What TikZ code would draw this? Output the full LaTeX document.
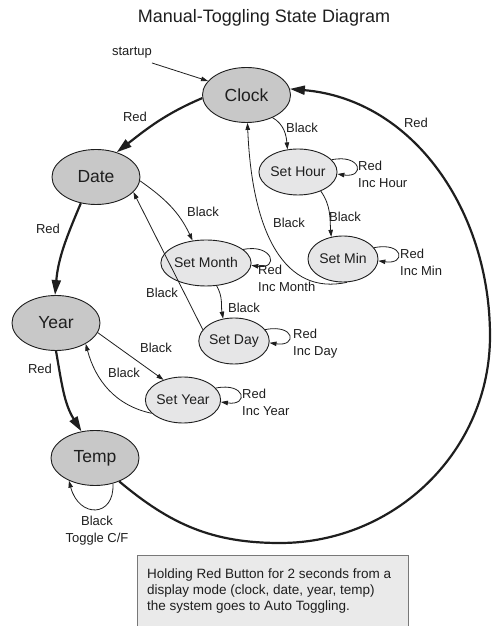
\documentclass[tikz,border=0pt]{standalone}
\usepackage{fontspec}
\setmainfont{Liberation Sans}
\usetikzlibrary{shapes.geometric,arrows.meta}
\definecolor{mainfill}{RGB}{200,200,200}
\definecolor{subfill}{RGB}{230,230,231}
\definecolor{boxfill}{RGB}{234,234,234}
\definecolor{boxline}{RGB}{120,120,120}
\definecolor{ink}{RGB}{30,30,30}
\newcommand{\selfloop}[1]{\draw[blackarrow] (#1.20) .. controls +(30,6) and +(28,-4) .. (#1.-3);}
\begin{document}
\begin{tikzpicture}[x=1pt,y=1pt,
  mainstate/.style={ellipse,draw=ink,fill=mainfill,line width=0.9pt,minimum width=88pt,minimum height=55pt,inner sep=0pt,font=\fontsize{17.5}{20}\selectfont,text=ink},
  substate/.style={ellipse,draw=ink,fill=subfill,line width=0.9pt,minimum width=70pt,minimum height=46pt,inner sep=0pt,font=\fontsize{14}{16}\selectfont,text=ink},
  lbl/.style={font=\fontsize{13}{17}\selectfont,text=ink,inner sep=0pt},
  redarrow/.style={draw=ink,line width=2.2pt,-{Triangle[length=15pt,width=9pt]}},
  blackarrow/.style={draw=ink,line width=0.8pt,-{Triangle[length=7pt,width=4.5pt]}},
  notebox/.style={draw=boxline,fill=boxfill,line width=0.9pt,inner sep=0pt,anchor=north west,minimum width=271pt,minimum height=90pt},
]
\useasboundingbox (0,0) rectangle (494,626);

% title
\node[font=\fontsize{18}{21}\selectfont,text=ink] (title) at (264,608) {Manual-Toggling State Diagram};

% states
\node[mainstate] (clock) at (246.5,531) {Clock};
\node[mainstate] (date) at (96,449) {Date};
\node[mainstate] (year) at (56,303) {Year};
\node[mainstate] (temp) at (95,168) {Temp};
\node[substate] (sh) at (298,454) {Set Hour};
\node[substate] (sm) at (343,367) {Set Min};
\node[substate] (smo) at (206,363) {Set Month};
\node[substate] (sd) at (234,285) {Set Day};
\node[substate] (sy) at (183,226) {Set Year};

% startup
\node[lbl] (startup) at (132,573) {startup};
\coordinate (st) at (152,563);
\draw[blackarrow] (st) -- (clock.160);

% red main cycle
\draw[redarrow] (clock.184) to[out=203,in=38] (date.50);
\node[lbl] (r1) at (135,509) {Red};
\draw[redarrow] (date.240) to[out=247,in=85] (year.92);
\node[lbl] (r2) at (48,397) {Red};
\draw[redarrow] (year.270) to[out=-80,in=122] (temp.117);
\node[lbl] (r3) at (40,257) {Red};
\coordinate (bb) at (280,83);
\coordinate (rr) at (490,290);
\draw[redarrow] (temp.-44) to[out=-40,in=180] (bb) to[out=0,in=-90] (rr) to[out=90,in=-5] (clock.8);
\node[lbl] (r4) at (416,503) {Red};

% clock substates
\draw[blackarrow] (clock.-41) to[out=-30,in=95] (sh.115);
\node[lbl] (b1) at (302,498) {Black};
\draw[blackarrow] (sh.-40) to[out=-55,in=95] (sm.118);
\node[lbl] (b2) at (345,409) {Black};
\draw[blackarrow] (sm.-80) .. controls (285,330) and (252,392) .. (clock.272);
\node[lbl] (b3) at (289,403) {Black};
\selfloop{sh}
\node[lbl,anchor=west,align=left] (l1) at (358,451.5) {Red\\Inc Hour};
\selfloop{sm}
\node[lbl,anchor=west,align=left] (l2) at (400,363.5) {Red\\Inc Min};

% date substates
\draw[blackarrow] (date.-5) to[out=-35,in=115] (smo.121);
\node[lbl] (b4) at (203,414) {Black};
\draw[blackarrow] (smo.-65) to[out=-60,in=100] (sd.116);
\node[lbl] (b5) at (244,318) {Black};
\draw[blackarrow] (sd.160) -- (date.-22);
\node[lbl] (b6) at (162,333) {Black};
\selfloop{smo}
\node[lbl,anchor=west,align=left] (l3) at (258,347.5) {Red\\Inc Month};
\selfloop{sd}
\node[lbl,anchor=west,align=left] (l4) at (293,282.5) {Red\\Inc Day};

% year substates
\draw[blackarrow] (year.-13) -- (sy.134);
\node[lbl] (b7) at (156,278) {Black};
\draw[blackarrow] (sy.203) to[out=168,in=-75] (year.-35);
\node[lbl] (b8) at (124,253) {Black};
\selfloop{sy}
\node[lbl,anchor=west,align=left] (l5) at (242,224) {Red\\Inc Year};

% temp loop
\draw[blackarrow] (temp.-55) .. controls +(2,-34) and +(10,-38) .. (temp.-139);
\node[lbl,align=center] (l6) at (97,95) {Black\\Toggle C/F};

% note box
\node[notebox] (note) at (137,71) {};
\node[font=\fontsize{13.5}{16}\selectfont,text=ink,align=left,anchor=west,inner sep=0pt] (notetext) at (147,35) {Holding Red Button for 2 seconds from a\\display mode (clock, date, year, temp)\\the system goes to Auto Toggling.};
\end{tikzpicture}
\end{document}
